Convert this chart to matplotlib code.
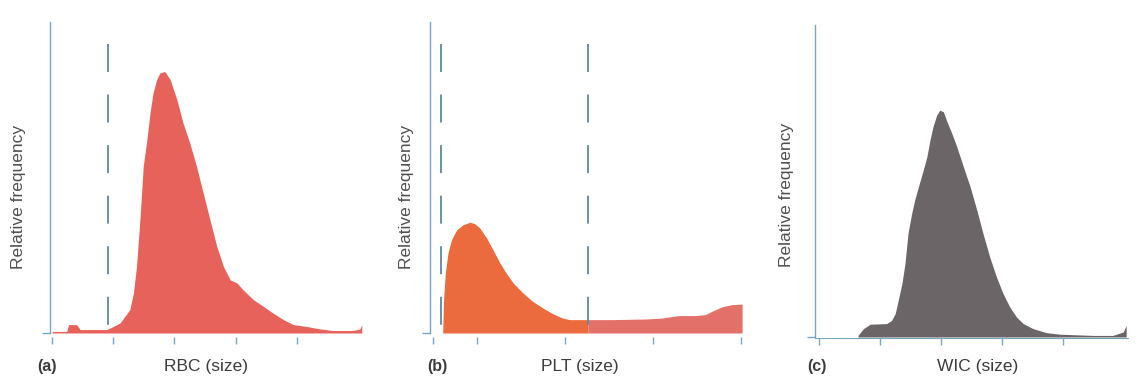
import matplotlib
matplotlib.use("Agg")
import matplotlib.pyplot as plt

plt.rcParams['font.family'] = ['Liberation Sans', 'DejaVu Sans']

# (a) RBC size distribution
rbc_x = [0.0, 0.24, 0.27, 0.40, 0.46, 0.89, 0.95, 1.11, 1.27, 1.33, 1.38, 1.44, 1.49, 1.55,
         1.60, 1.65, 1.71, 1.76, 1.84, 1.93, 2.04, 2.14, 2.25, 2.36, 2.47, 2.58, 2.69, 2.80,
         2.91, 3.02, 3.12, 3.29, 3.45, 3.61, 3.78, 3.94, 4.16, 4.38, 4.59, 4.92, 5.03, 5.06]
rbc_y = [0.005, 0.005, 0.027, 0.027, 0.011, 0.011, 0.016, 0.032, 0.075, 0.129, 0.214, 0.375,
         0.536, 0.622, 0.707, 0.772, 0.815, 0.836, 0.841, 0.815, 0.750, 0.675, 0.611, 0.536,
         0.450, 0.364, 0.279, 0.214, 0.171, 0.161, 0.139, 0.107, 0.086, 0.064, 0.043, 0.027,
         0.021, 0.013, 0.008, 0.008, 0.013, 0.027]
rbc_ticks = [0, 1, 2, 3, 4]
rbc_cut = [0.91]

# (b) PLT size distribution
plt_x = [0.11, 0.12, 0.14, 0.17, 0.21, 0.27, 0.34, 0.42, 0.47, 0.53, 0.61, 0.68, 0.76, 0.83,
         0.91, 1.02, 1.13, 1.25, 1.36, 1.47, 1.55, 1.66, 1.76, 2.04, 2.41, 2.60, 2.79, 2.98,
         3.09, 3.17, 3.28, 3.39, 3.51]
plt_y = [0.0, 0.107, 0.193, 0.257, 0.300, 0.332, 0.348, 0.356, 0.352, 0.338, 0.305, 0.268,
         0.225, 0.193, 0.161, 0.129, 0.102, 0.080, 0.062, 0.048, 0.043, 0.043, 0.043, 0.043,
         0.045, 0.048, 0.056, 0.056, 0.059, 0.070, 0.084, 0.091, 0.093]
plt_ticks = [0, 0.5, 1.5, 2.5, 3.5]
plt_cut = [0.09, 1.76]

# (c) WIC size distribution
wic_x = [0.64, 0.73, 0.84, 1.11, 1.19, 1.25, 1.30, 1.36, 1.41, 1.46, 1.52, 1.57, 1.63, 1.71,
         1.77, 1.82, 1.87, 1.93, 1.98, 2.04, 2.09, 2.18, 2.26, 2.37, 2.48, 2.59, 2.69, 2.80,
         2.91, 3.02, 3.13, 3.24, 3.35, 3.51, 3.73, 3.95, 4.22, 4.50, 4.82, 4.99, 5.04]
wic_y = [0.005, 0.027, 0.041, 0.043, 0.053, 0.075, 0.118, 0.171, 0.235, 0.332, 0.396, 0.439,
         0.481, 0.535, 0.578, 0.631, 0.674, 0.711, 0.727, 0.722, 0.695, 0.652, 0.610, 0.545,
         0.481, 0.406, 0.332, 0.257, 0.193, 0.139, 0.096, 0.064, 0.043, 0.027, 0.014, 0.009,
         0.007, 0.005, 0.005, 0.016, 0.037]
wic_ticks = [0, 1, 2, 3, 4]

axis_col = '#7aa6c2'
dash_col = '#5e88a4'
text_col = '#3c3c3c'

fig = plt.figure(figsize=(11.38, 3.86), dpi=100)
W, H = 1138, 386


def make_ax(left, right, top, base, xlim):
    ax = fig.add_axes([left / W, (H - base) / H, (right - left) / W, (base - top) / H])
    ax.set_xlim(*xlim)
    ax.set_ylim(0, 1)
    for s in ['top', 'right']:
        ax.spines[s].set_visible(False)
    ax.spines['left'].set_color(axis_col)
    ax.spines['left'].set_linewidth(1.0)
    ax.spines['bottom'].set_position(('outward', 3))
    ax.spines['bottom'].set_visible(False)
    ax.set_yticks([0])
    ax.tick_params(axis='y', colors=axis_col, length=6, width=1.0, labelleft=False)
    ax.tick_params(axis='x', colors=axis_col, length=5, width=1.0, labelbottom=False)
    ax.patch.set_alpha(0)
    return ax


def cut_line(ax, c):
    ax.plot([c, c], [0.93, 0], color=dash_col, lw=1.3, dashes=(15.5, 12.5))


# panel a
ax = make_ax(50, 363, 22, 333, (-0.033, 5.08))
ax.fill_between(rbc_x, rbc_y, 0, color='#e8625c', lw=0)
ax.set_xticks(rbc_ticks)
for c in rbc_cut:
    cut_line(ax, c)

# panel b
ax = make_ax(430, 743, 22, 333, (-0.034, 3.52))
split = plt_x.index(1.76)
ax.fill_between(plt_x[:split + 1], plt_y[:split + 1], 0, color='#ec6b3e', lw=0)
ax.fill_between(plt_x[split:], plt_y[split:], 0, color='#e4706a', lw=0)
ax.set_xticks(plt_ticks)
for c in plt_cut:
    cut_line(ax, c)

# panel c
ax = make_ax(815, 1128, 25, 337, (-0.066, 5.07))
ax.fill_between(wic_x, wic_y, 0, color='#6b6567', lw=0)
ax.set_xticks(wic_ticks)
ax.spines['bottom'].set_visible(True)
ax.spines['bottom'].set_position(('outward', 1))
ax.spines['bottom'].set_color(axis_col)

# labels
fs = 12.5
for x, y in [(19, 197), (407, 197), (787, 195)]:
    fig.text(x / W, 1 - y / H, 'Relative frequency', rotation=90, ha='center', va='center',
             fontsize=fs, color='#505050')
for x, lab in [(37, '(a)'), (427, '(b)'), (807, '(c)')]:
    fig.text(x / W, 1 - 367 / H, lab, ha='left', va='center', fontsize=fs - 1,
             fontweight='bold', color=text_col)
for x, lab in [(206, 'RBC (size)'), (580, 'PLT (size)'), (978, 'WIC (size)')]:
    fig.text(x / W, 1 - 367 / H, lab, ha='center', va='center', fontsize=fs, color=text_col)

fig.savefig('out.png', dpi=100)
